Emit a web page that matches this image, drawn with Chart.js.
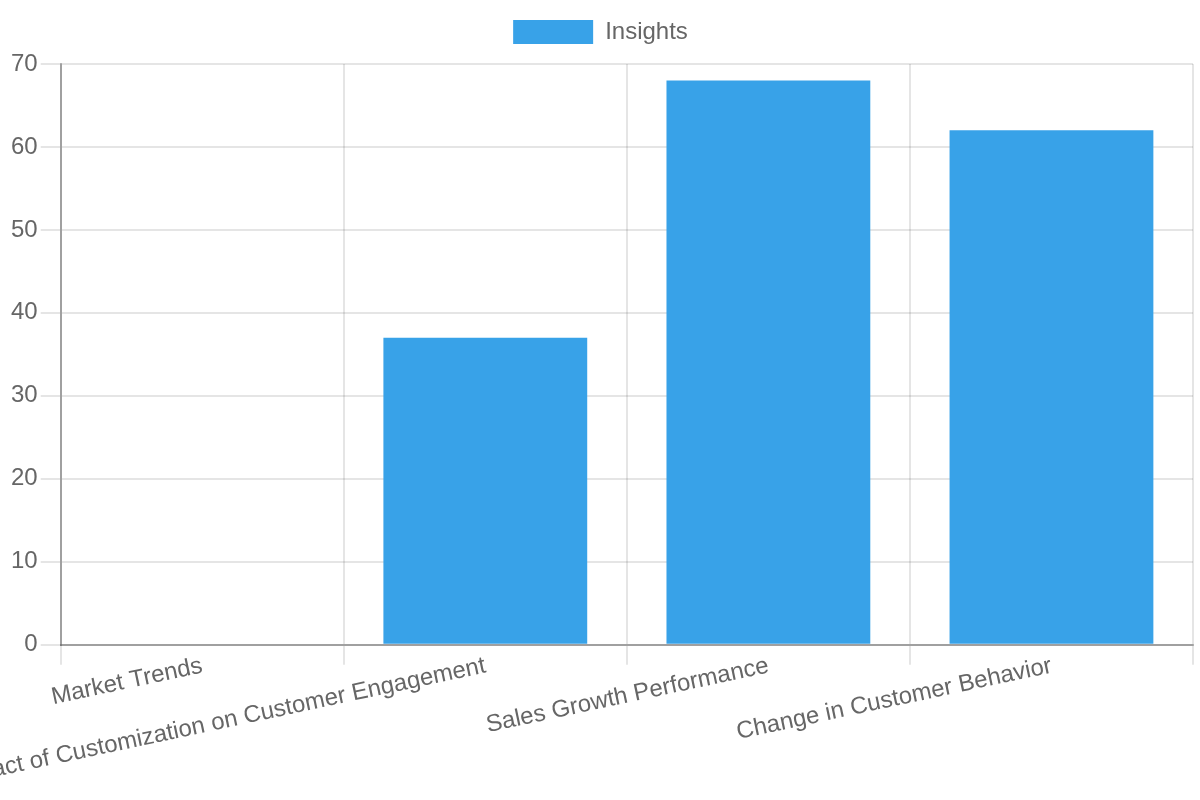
<!DOCTYPE html>
<html>
<head>
<meta charset="utf-8">
<style>
  html, body { margin: 0; padding: 0; background: #fff; }
  #wrap { width: 1200px; height: 800px; }
</style>
<script src="https://cdn.jsdelivr.net/npm/chart.js@4/dist/chart.umd.min.js"></script>
</head>
<body>
<div id="wrap"><canvas id="c" width="1200" height="800"></canvas></div>
<script>
const categories = ["Market Trends", "Impact of Customization on Customer Engagement", "Sales Growth Performance", "Change in Customer Behavior"];
const seriesName = "Insights";
const insightsValues = [0, 37, 68, 62];

Chart.defaults.font.family = "'Liberation Sans', Arial, Helvetica, sans-serif";
Chart.defaults.font.size = 24;
Chart.defaults.color = '#666';

const legendSpacer = {
  id: 'legendSpacer',
  afterInit(chart) {
    const lg = chart.legend;
    if (!lg) return;
    const orig = lg.fit;
    lg.fit = function () { orig.call(this); this.height += 10; };
  }
};

new Chart(document.getElementById('c'), {
  type: 'bar',
  data: {
    labels: categories,
    datasets: [{
      label: seriesName,
      data: insightsValues,
      backgroundColor: '#38a2e8',
      borderColor: '#38a2e8',
      borderWidth: 0
    }]
  },
  options: {
    responsive: false,
    animation: false,
    devicePixelRatio: 1,
    layout: { padding: { top: 0, left: 8, right: 7, bottom: 20 } },
    plugins: {
      legend: {
        labels: { boxWidth: 80, boxHeight: 24, padding: 20, font: { size: 24 } }
      },
      tooltip: { enabled: false }
    },
    scales: {
      x: {
        grid: { color: 'rgba(0,0,0,0.1)', lineWidth: 2, tickLength: 20 },
        border: { color: 'rgba(0,0,0,0.3)', width: 2 },
        ticks: { font: { size: 24 }, padding: -13, minRotation: 12, maxRotation: 12 }
      },
      y: {
        beginAtZero: true,
        grid: { color: 'rgba(0,0,0,0.1)', lineWidth: 2, tickLength: 20 },
        border: { color: 'rgba(0,0,0,0.3)', width: 2 },
        ticks: { font: { size: 24 }, padding: 3, stepSize: 10 }
      }
    }
  },
  plugins: [legendSpacer]
});
</script>
</body>
</html>
